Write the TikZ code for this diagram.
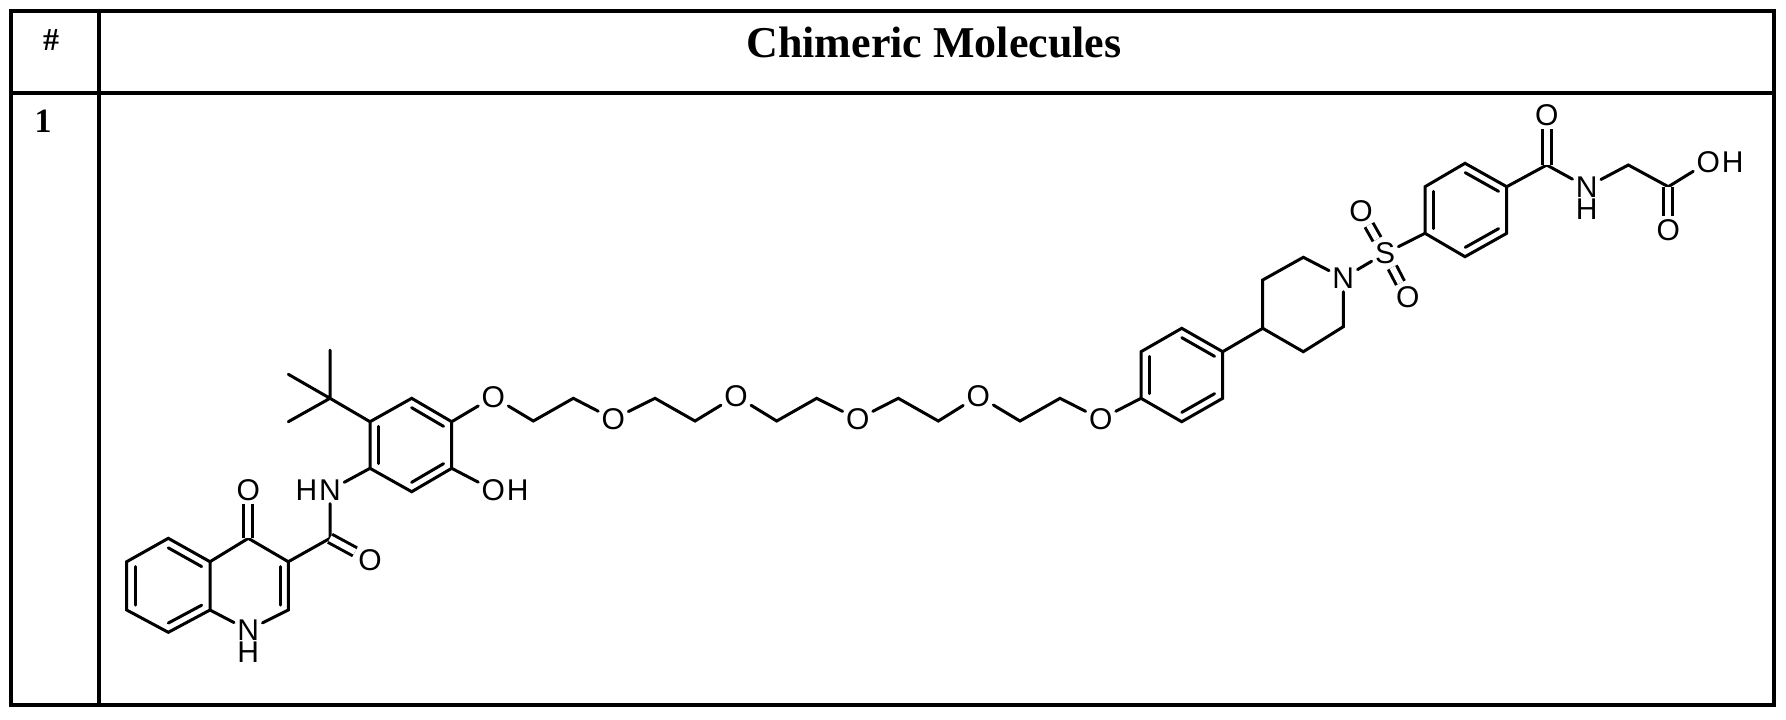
\documentclass[tikz,border=0pt]{standalone}
\usepackage{fontspec}
\setmainfont{Liberation Serif}
\newfontfamily\labfont{Liberation Sans}
\usetikzlibrary{calc,positioning}
\begin{document}
\begin{tikzpicture}[x=0.5pt,y=-0.5pt,
  bond/.style={line width=1.5pt,line cap=round},
  dbl/.style={line width=1.5pt,double,double distance=3pt},
  atm/.style={inner sep=1.5pt,font=\labfont\fontsize{15}{15}\selectfont},
  hlab/.style={inner sep=0.5pt,font=\labfont\fontsize{15}{15}\selectfont},
  grid/.style={line width=2pt},
  head/.style={font=\bfseries\fontsize{22}{22}\selectfont}]
\useasboundingbox (0,0) rectangle (1786,719);
% table
\draw[grid] (11,11) rectangle (1774,705);
\draw[grid] (99,11) -- (99,705);
\draw[grid] (11,93) -- (1774,93);
\node[head] (hdr) at (934,42) {Chimeric Molecules};
\node[head,font=\bfseries\fontsize{16}{16}\selectfont] (hash) at (51,40) {\#};
\node[head,font=\bfseries\fontsize{17}{17}\selectfont] (one) at (43,121) {1};
% coordinates
\foreach \n/\x/\y in {a1/168.3/538.3,a2/210/561.7,a3/210/610,a4/168.3/632.3,a5/126.7/610,a6/126.7/561.7,cA/168.3/586,
 c4/248.3/538.3,c3/288.3/561.7,c2/288.3/610,cB/249/586,amC/330/538.3,
 r1/370/468.3,r2/370/421.7,r3/411.7/398.3,r4/451.7/421.7,r5/451.7/468.3,r6/411.7/491.7,cR/411/445,
 tq/330/398.3,m1/330/350,m2/288.3/374.3,m3/288.3/421.7,
 k1/533.3/421,k2/573.3/398.3,k3/655/398.3,k4/695/421,k5/776.7/421,k6/816.7/398.3,k7/898.3/398.3,k8/938.3/421,k9/1020/421,k10/1060/398.3,
 p1/1141/398.3,p2/1141/351.7,p3/1181.7/328.3,p4/1222.7/351.7,p5/1222.7/398.3,p6/1181.7/421.7,cP/1182/375,
 q1/1262.7/328.3,q2/1262.7/280,q3/1303.3/257.3,q5/1343.3/326.7,q6/1303.3/351.7,
 d1/1425/186.7,d2/1465/163.3,d3/1506.7/186.7,d4/1506.7/233.3,d5/1465/256.7,d6/1425/233.3,cD/1466/210,
 bC/1546.7/165,g1/1628.3/165,g2/1668.3/186.7}
  \coordinate (\n) at (\x,\y);
% atom labels
\node[atm] (N1) at (248.3,630) {N};
\node[hlab,below=-1.5pt of N1] (N1H) {H};
\node[atm] (O4) at (248.3,490) {O};
\node[atm] (amO) at (370,560) {O};
\node[atm] (amN) at (330,490) {N};
\node[hlab,left=-1.5pt of amN] (amNH) {H};
\node[atm] (OHo) at (493.3,490) {O};
\node[hlab,right=-1.5pt of OHo] (OHh) {H};
\node[atm] (O1) at (493.3,397) {O};
\node[atm] (O2) at (613.3,419) {O};
\node[atm] (O3) at (736,396) {O};
\node[atm] (O4x) at (857.7,419) {O};
\node[atm] (O5) at (978.3,396) {O};
\node[atm] (O6) at (1100.7,419) {O};
\node[atm] (qN) at (1343.3,278) {N};
\node[atm] (S) at (1385,253.3) {S};
\node[atm] (Oa) at (1361,211) {O};
\node[atm] (Ob) at (1407.7,297) {O};
\node[atm] (bO) at (1546.7,115) {O};
\node[atm] (bN) at (1586.7,187) {N};
\node[hlab,below=-1.5pt of bN] (bNH) {H};
\node[atm] (gO) at (1668.3,230) {O};
\node[atm] (gOH) at (1708.3,162) {O};
\node[hlab,right=-1.5pt of gOH] (gOHh) {H};
% quinolone
\draw[bond] (a1)--(a2)--(a3)--(a4)--(a5)--(a6)--cycle;
\draw[bond] (a2)--(c4)--(c3)--(c2)--(N1)--(a3);
\foreach \u/\v/\c in {a6/a5/cA,a1/a2/cA,a3/a4/cA,c3/c2/cB,r1/r2/cR,r3/r4/cR,r5/r6/cR,p1/p2/cP,p3/p4/cP,p5/p6/cP,d6/d1/cD,d2/d3/cD,d4/d5/cD}
  \draw[bond] ($(\u)!0.2!(\c)$) -- ($(\v)!0.2!(\c)$);
\draw[dbl] (c4)--(O4);
\draw[bond] (c3)--(amC)--(amN);
\draw[dbl] (amC)--(amO);
% aryl ring
\draw[bond] (r1)--(r2)--(r3)--(r4)--(r5)--(r6)--cycle;
\draw[bond] (amN)--(r1);
\draw[bond] (r2)--(tq) (tq)--(m1) (tq)--(m2) (tq)--(m3);
\draw[bond] (r5)--(OHo);
\draw[bond] (r4)--(O1)--(k1)--(k2)--(O2)--(k3)--(k4)--(O3)--(k5)--(k6)--(O4x)--(k7)--(k8)--(O5)--(k9)--(k10)--(O6)--(p1);
% phenyl
\draw[bond] (p1)--(p2)--(p3)--(p4)--(p5)--(p6)--cycle;
\draw[bond] (p4)--(q1)--(q2)--(q3)--(qN)--(q5)--(q6)--(q1);
\draw[bond] (qN)--(S)--(d6);
\draw[dbl] (S)--(Oa);
\draw[dbl] (S)--(Ob);
\draw[bond] (d1)--(d2)--(d3)--(d4)--(d5)--(d6)--cycle;
\draw[bond] (d3)--(bC)--(bN)--(g1)--(g2)--(gOH);
\draw[dbl] (bC)--(bO);
\draw[dbl] (g2)--(gO);
\end{tikzpicture}
\end{document}
